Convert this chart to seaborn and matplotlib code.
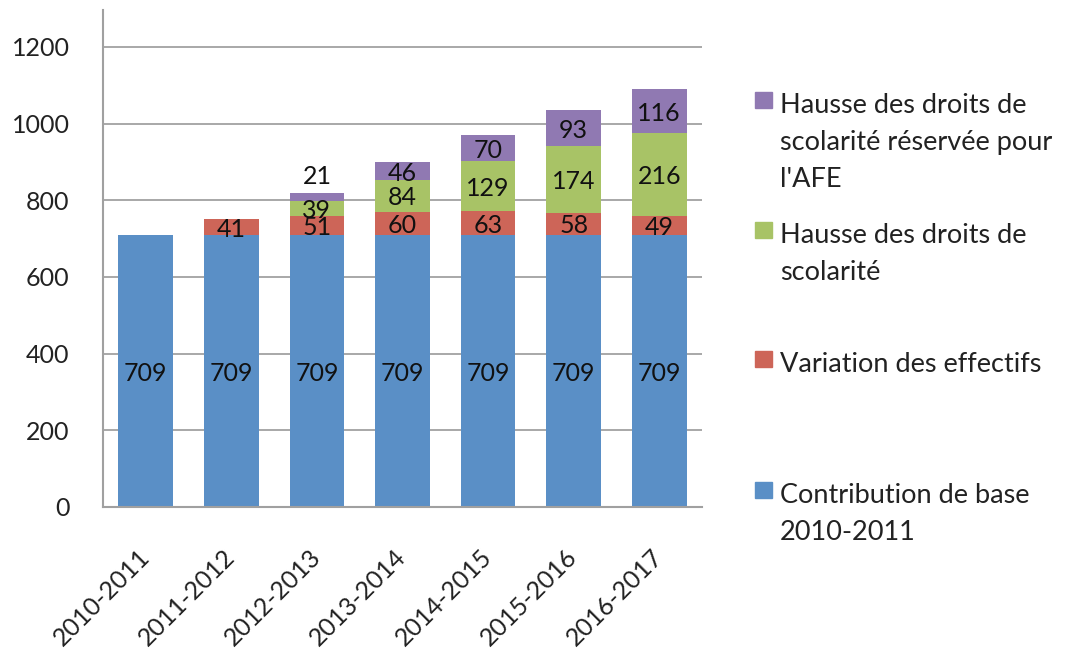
import seaborn as sns
import matplotlib.pyplot as plt
import numpy as np
from matplotlib.patches import Rectangle
from matplotlib.transforms import ScaledTranslation

# data
years = ["2010-2011", "2011-2012", "2012-2013", "2013-2014",
         "2014-2015", "2015-2016", "2016-2017"]
base = [709, 709, 709, 709, 709, 709, 709]
effectifs = [0, 41, 51, 60, 63, 58, 49]
hausse = [0, 0, 39, 84, 129, 174, 216]
afe = [0, 0, 21, 46, 70, 93, 116]

names = ["Contribution de base\n2010-2011",
         "Variation des effectifs",
         "Hausse des droits de\nscolarité",
         "Hausse des droits de\nscolarité réservée pour\nl'AFE"]
colors = ["#5a8fc6", "#cd6558", "#a8c366", "#9079b2"]

sns.set_style("white")
plt.rcParams['font.family'] = ['Lato', 'DejaVu Sans']

W, H = 1067, 652
fig = plt.figure(figsize=(W / 100, H / 100), dpi=100)
ax = fig.add_axes([103 / W, 1 - 507 / H, (702 - 103) / W, (507 - 10) / H])

series = [base, effectifs, hausse, afe]
cum = np.cumsum(np.array(series), axis=0)

# stacked bars: draw the tallest layer first, shorter ones on top
for k in range(len(series) - 1, -1, -1):
    sns.barplot(x=years, y=cum[k], color=colors[k], saturation=1,
                width=0.64, linewidth=0, ax=ax)

# segment labels
for i in range(len(years)):
    bottom = 0
    for k, s in enumerate(series):
        v = s[i]
        if v > 0:
            if v < 25:
                y = cum[-1][i] + 47
            else:
                y = bottom + v / 2
            ax.text(i, y, str(v), ha="center", va="center_baseline",
                    fontsize=18, color="#111111")
        bottom += v

ax.set_ylim(0, 1296)
ax.set_xlim(-0.5, 6.5)
ax.set_yticks(range(0, 1201, 200))
ax.yaxis.grid(True, color="#a8a8a8", linewidth=1.4)
ax.set_axisbelow(True)
for side in ["top", "right"]:
    ax.spines[side].set_visible(False)
for side in ["left", "bottom"]:
    ax.spines[side].set_color("#a0a0a0")
    ax.spines[side].set_linewidth(1.5)
ax.tick_params(axis="y", length=0, pad=24, labelsize=18, labelcolor="#222222")
ax.tick_params(axis="x", length=0, pad=0, labelsize=18, labelcolor="#222222")
ax.set_xlabel("")
ax.set_ylabel("")
plt.setp(ax.get_xticklabels(), rotation=45, ha="right")
shift = ScaledTranslation(8 / 100, -38 / 100, fig.dpi_scale_trans)
for lab in ax.get_xticklabels():
    lab.set_transform(lab.get_transform() + shift)

# legend, top entry is the top segment
baselines = [113, 243, 372, 503]
for j, k in enumerate(range(len(series) - 1, -1, -1)):
    b = baselines[j]
    fig.add_artist(Rectangle((755 / W, 1 - (b - 5) / H), 17 / W, 16 / H,
                             transform=fig.transFigure, color=colors[k]))
    for n, line in enumerate(names[k].split("\n")):
        fig.text(780 / W, 1 - (b + 37 * n) / H, line, va="baseline",
                 ha="left", fontsize=19.5, color="#222222")

fig.savefig("out.png", dpi=100)
